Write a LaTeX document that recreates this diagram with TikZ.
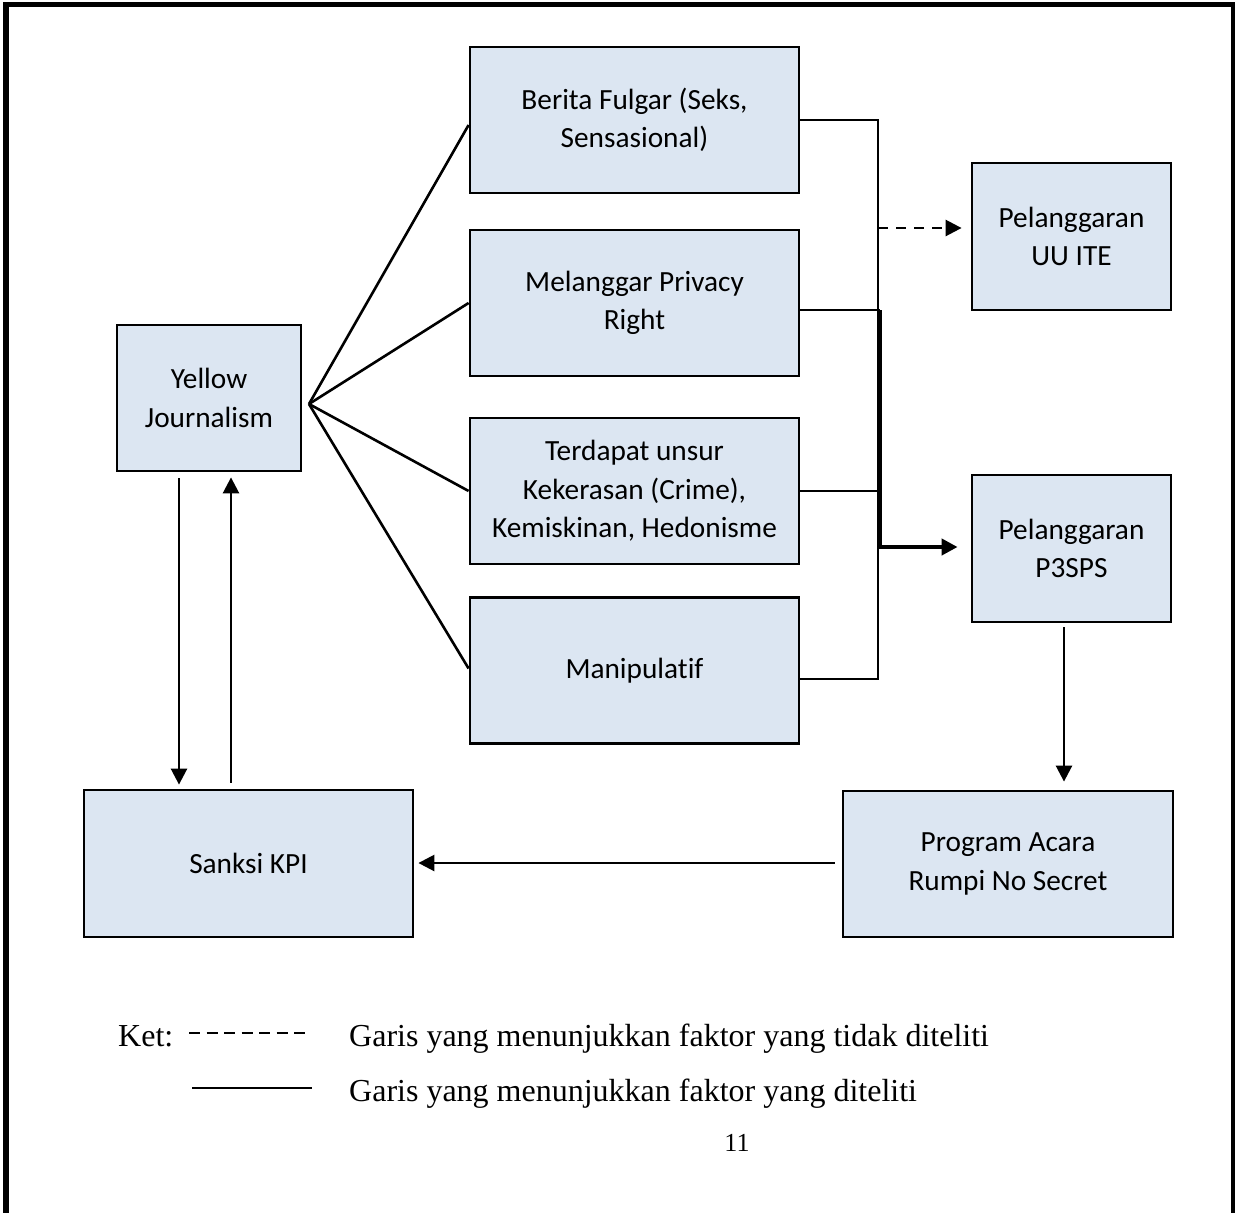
\documentclass[tikz,border=0pt]{standalone}
\usepackage{fontspec}
\usetikzlibrary{arrows.meta}
\newfontfamily\boxfont[Ligatures=NoCommon]{Carlito}
\newfontfamily\legfont{Liberation Serif}
\definecolor{boxfill}{HTML}{DCE6F2}
\begin{document}
\begin{tikzpicture}[x=1pt,y=-1pt,
  box/.style={draw=black, line width=2.8pt, fill=boxfill, rectangle, align=center,
    inner sep=0pt, font=\boxfont\fontsize{29.3}{38.5}\selectfont},
  conn/.style={draw=black, line width=2.6pt},
  thickconn/.style={draw=black, line width=4.6pt},
  tip/.style={-{Triangle[length=16pt,width=16pt]}},
  legtext/.style={anchor=base west, inner sep=0pt, font=\legfont\fontsize{32}{38}\selectfont}
]
\useasboundingbox (0,0) rectangle (1235,1213);
% page frame
\draw[line width=5.5pt] (6,1230) -- (6,4.5) -- (1234,4.5) -- (1234,1230);

% boxes
\node[box, minimum width=329pt, minimum height=146pt] (berita) at (634.5,120) {Berita Fulgar (Seks,\\Sensasional)};
\node[box, minimum width=329pt, minimum height=146pt] (privacy) at (634.5,303) {Melanggar Privacy\\Right};
\node[box, minimum width=329pt, minimum height=146pt] (unsur) at (634.5,491) {Terdapat unsur\\Kekerasan (Crime),\\Kemiskinan, Hedonisme};
\node[box, minimum width=329pt, minimum height=146pt] (manip) at (634.5,670.5) {Manipulatif};
\node[box, minimum width=184pt, minimum height=146pt] (yellow) at (209,398) {Yellow\\Journalism};
\node[box, minimum width=199pt, minimum height=147pt] (uuite) at (1071.5,236.5) {Pelanggaran\\UU ITE};
\node[box, minimum width=199pt, minimum height=147pt] (p3sps) at (1071.5,548.5) {Pelanggaran\\P3SPS};
\node[box, minimum width=330pt, minimum height=146pt] (program) at (1008,864) {Program Acara\\Rumpi No Secret};
\node[box, minimum width=329pt, minimum height=147pt] (sanksi) at (248.5,863.5) {Sanksi KPI};

% fan from Yellow Journalism
\coordinate (fan) at (309,404);
\draw[conn] (fan) -- ([yshift=-5pt]berita.west);
\draw[conn] (fan) -- (privacy.west);
\draw[conn] (fan) -- (unsur.west);
\draw[conn] (fan) -- ([yshift=2pt]manip.west);

% right bracket
\coordinate (bTop) at (878,120);
\coordinate (bPriv) at (880,310);
\coordinate (bUnsur) at (878,491);
\coordinate (bBot) at (878,679);
\coordinate (bDash) at (878,228);
\coordinate (bArrow) at (880,547);
\draw[conn] (berita.east) -- (bTop) -- (bBot) -- (manip.east |- bBot);
\draw[conn] (unsur.east) -- (bUnsur);
\draw[conn] (privacy.east |- bPriv) -- (bPriv);
\draw[thickconn, tip, shorten >=13pt] (bPriv) -- (bArrow) -- (p3sps.west |- bArrow);
\draw[conn, dash pattern=on 10pt off 8pt, tip, shorten >=9pt] (bDash) -- (uuite.west |- bDash);

% vertical and horizontal arrows
\draw[conn, tip, shorten <=4pt, shorten >=8pt] (p3sps.south -| 1064,0) -- (program.north -| 1064,0);
\draw[conn, tip, shorten <=7pt, shorten >=4pt] (program.west |- 0,863) -- (sanksi.east |- 0,863);
\draw[conn, tip, shorten <=6pt, shorten >=4pt] (yellow.south -| 179,0) -- (sanksi.north -| 179,0);
\draw[conn, tip, shorten <=6pt, shorten >=5pt] (sanksi.north -| 231,0) -- (yellow.south -| 231,0);

% legend
\node[legtext] (ket) at (118,1046) {Ket:};
\node[legtext] (leg1) at (349,1046) {Garis yang menunjukkan faktor yang tidak diteliti};
\node[legtext] (leg2) at (349,1101) {Garis yang menunjukkan faktor yang diteliti};
\coordinate (d1) at (189,1033);
\coordinate (d2) at (310,1033);
\coordinate (s1) at (192,1088);
\coordinate (s2) at (312,1088);
\draw[line width=2pt, dash pattern=on 11pt off 6.5pt] (d1) -- (d2);
\draw[line width=2.2pt] (s1) -- (s2);
\node[anchor=base, inner sep=0pt, font=\legfont\fontsize{26}{30}\selectfont] (page) at (737,1151) {11};
\end{tikzpicture}
\end{document}
